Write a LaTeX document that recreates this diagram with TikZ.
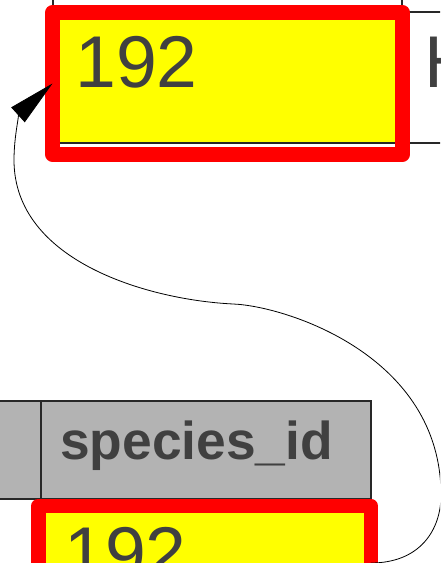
\documentclass[tikz,border=0pt]{standalone}
\usepackage{fontspec}
\setmainfont{Liberation Sans}
\usetikzlibrary{arrows.meta,positioning}

\definecolor{keyyellow}{RGB}{255,255,0}
\definecolor{hilitered}{RGB}{255,0,0}
\definecolor{headgray}{RGB}{179,179,179}
\definecolor{textgray}{RGB}{64,64,64}
\definecolor{rulegray}{RGB}{40,40,40}

% one pixel of the drawing grid
\newlength{\pxu}
\setlength{\pxu}{0.75pt}

\tikzset{
  cell/.style={draw=rulegray, line width=0.8pt, fill=white, inner sep=0pt, outer sep=0pt, anchor=north west},
  keycell/.style={cell, fill=keyyellow},
  headcell/.style={cell, fill=headgray},
  hilite/.style={draw=hilitered, line width=14.5\pxu, line join=round, inner sep=0pt, outer sep=0pt},
  celltext/.style={anchor=base west, inner sep=0pt, text=textgray},
  bigdigits/.style={celltext, font=\fontsize{55}{60}\selectfont},
  reflink/.style={-{Triangle[length=35pt,width=15pt]}, line width=0.6pt},
}

\begin{document}
\begin{tikzpicture}[x=0.75pt, y=0.75pt]
    \useasboundingbox (0,0) rectangle (440,563);
    \clip (0,0) rectangle (440,563);

    % species table
    \node[cell, minimum width=349\pxu, minimum height=72\pxu] (prevrow) at (53,623) {};
    \node[keycell, minimum width=349\pxu, minimum height=131\pxu] (idcell) at (53,551) {};
    \node[cell, minimum width=200\pxu, minimum height=131\pxu, right=0pt of idcell] (namecell) {};
    \node[bigdigits] (idtext) at ([shift={(22,-76)}]idcell.north west) {192};
    \node[bigdigits] (nametext) at ([shift={(22,-76)}]namecell.north west) {H};

    % referencing table
    \node[headcell, minimum width=101\pxu, minimum height=98\pxu] (hdrprev) at (-60,162) {};
    \node[headcell, minimum width=330\pxu, minimum height=98\pxu, right=0pt of hdrprev] (hdrspecies) {};
    \node[celltext, font=\bfseries\fontsize{40}{44}\selectfont] (hdrtext) at ([shift={(19,-59)}]hdrspecies.north west) {species\_id};
    \node[keycell, minimum width=330\pxu, minimum height=154\pxu, below=0pt of hdrspecies] (fkcell) {};
    \node[bigdigits] (fktext) at ([shift={(23,-79)}]fkcell.north west) {192};

    % highlighted keys
    \node[hilite, minimum width=350\pxu, minimum height=142\pxu] (pkey) at (227.5,479.5) {};
    \node[hilite, minimum width=332.5\pxu, minimum height=114\pxu] (fkey) at (204.5,0) {};

    % reference from the foreign key back to the primary key
    \draw[reflink] (fkey.east) .. controls (420,0) and (441,33) .. (441,68)
        .. controls (441,208) and (285,257) .. (233,259)
        .. controls (150,263) and (14,301) .. (14,403)
        .. controls (14,428) and (20,450) .. (pkey.west);
\end{tikzpicture}
\end{document}
